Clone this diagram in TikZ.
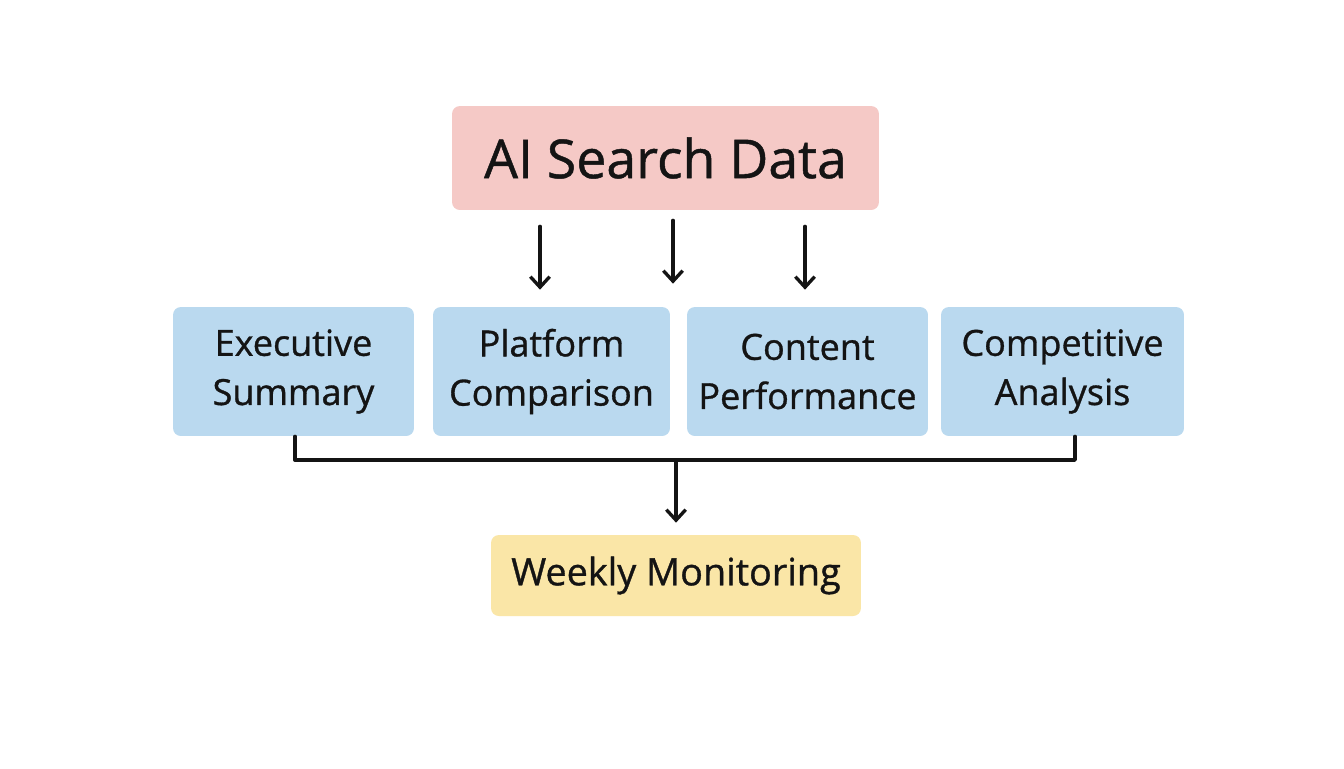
\documentclass[tikz,border=0pt]{standalone}
\usepackage{fontspec}
\setmainfont{Open Sans}[FakeBold=0.9]
\usetikzlibrary{arrows.meta}
\definecolor{pinkbox}{RGB}{245,201,198}
\definecolor{bluebox}{RGB}{186,217,239}
\definecolor{yellowbox}{RGB}{250,230,167}
\definecolor{ink}{RGB}{20,20,20}
\tikzset{
  box/.style={rounded corners=4.5pt, align=center, inner sep=0pt, text=ink},
  bluenode/.style={box, fill=bluebox, minimum width=4.8cm, minimum height=2.58cm,
    font=\fontsize{20.5}{28}\selectfont},
  conn/.style={draw=ink, line width=1.9pt, line cap=round, line join=round},
  arr/.style={conn, -{Straight Barb[length=6pt,width=11pt,line width=1.9pt]}}
}
\begin{document}
\begin{tikzpicture}[x=0.02cm,y=-0.02cm]
\fill[white] (0,0) rectangle (1344,768);
\useasboundingbox (0,0) rectangle (1344,768);

\node[box, fill=pinkbox, minimum width=8.54cm, minimum height=2.08cm,
  font=\fontsize{30.5}{36}\selectfont] (top) at (665.5,158) {\raisebox{-2pt}{AI Search Data}};

\node[bluenode, minimum width=4.82cm] (exec) at (293.5,371.5) {Executive\\Summary};
\node[bluenode, minimum width=4.74cm] (plat) at (551.5,371.5) {Platform\\Comparison};
\node[bluenode, minimum width=4.82cm] (cont) at (807.5,371.5) {Content\\Performance};
\node[bluenode, minimum width=4.86cm] (comp) at (1062.5,371.5) {Competitive\\Analysis};

\node[box, fill=yellowbox, minimum width=7.4cm, minimum height=1.62cm,
  font=\fontsize{21.5}{26}\selectfont] (week) at (676,575.5) {\raisebox{-3pt}{Weekly Monitoring}};

\coordinate (x1) at (540,0);
\coordinate (x2) at (673,0);
\coordinate (x3) at (805,0);
\coordinate (b1) at (295,0);
\coordinate (b2) at (1075,0);
\coordinate (j) at (676,460);

\draw[arr, shorten <=0.32cm, shorten >=0.34cm] (top.south -| x1) -- (plat.north -| x1);
\draw[arr, shorten <=0.2cm, shorten >=0.46cm] (top.south -| x2) -- (plat.north -| x2);
\draw[arr, shorten <=0.32cm, shorten >=0.34cm] (top.south -| x3) -- (cont.north -| x3);

\draw[conn] (exec.south -| b1) |- (j) -| (comp.south -| b2);
\draw[arr, shorten >=0.24cm] (j) -- (week.north -| j);
\end{tikzpicture}
\end{document}
